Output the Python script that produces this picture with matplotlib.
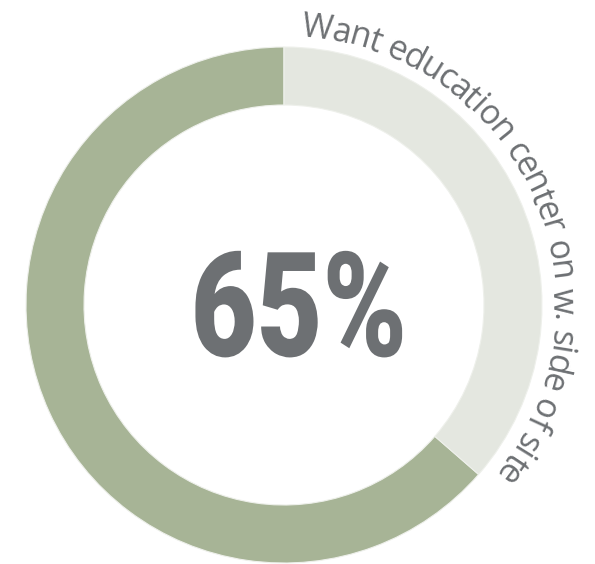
import numpy as np
import matplotlib
matplotlib.use("Agg")
import matplotlib.pyplot as plt
from matplotlib.font_manager import FontProperties
from matplotlib.textpath import text_to_path
from matplotlib.patheffects import AbstractPathEffect
from matplotlib.transforms import Affine2D

# data (ring shares, label as printed)
shares = [63.6, 36.4]
share_colors = ["#a7b496", "#e4e7e0"]
big_label = "65%"
arc_label = "Want education center on w. side of site"

gray = "#6d7073"


class Squeeze(AbstractPathEffect):
    # squeeze glyphs horizontally around x0 (display px), to fake a condensed face
    def __init__(self, sx, x0):
        super().__init__()
        self.sx = sx
        self.x0 = x0

    def draw_path(self, renderer, gc, tpath, affine, rgbFace=None):
        t = affine + Affine2D().translate(-self.x0, 0).scale(self.sx, 1).translate(self.x0, 0)
        renderer.draw_path(gc, tpath, t, rgbFace)


fig = plt.figure(figsize=(5.95, 5.64), dpi=100)
ax = fig.add_axes([0, 0, 1, 1])

cx, cy = 284, 259  # ring centre in pixels (y up)
r_out, r_in = 258, 200

ax.pie(shares, colors=share_colors, radius=r_out, center=(cx, cy),
       startangle=90, counterclock=True,
       wedgeprops=dict(width=r_out - r_in, edgecolor="#eef0eb", linewidth=0.8))
ax.set_aspect("auto")
ax.set_xlim(0, 595)
ax.set_ylim(0, 564)
ax.axis("off")

# big number
ax.text(299, 208, big_label, ha="center", va="baseline", color=gray,
        family="Roboto", weight="black", fontsize=105,
        path_effects=[Squeeze(0.78, 299)])

# curved label along the outside of the ring
fam = ["Open Sans", "DejaVu Sans"]
fp = FontProperties(family=fam, size=1)
r_txt = 269
a0, a1 = np.radians(3.8), np.radians(128.8)
grow = 1.07  # a bit bigger glyphs, tighter tracking


def width(s, prop):
    if not s:
        return 0.0
    return text_to_path.get_text_width_height_descent(s, prop, ismath=False)[0]


w1 = width(arc_label, fp)
fs_px = r_txt * (a1 - a0) / w1
fp_px = FontProperties(family=fam, size=fs_px)
for i, ch in enumerate(arc_label):
    if ch == " ":
        continue
    off = width(arc_label[:i], fp_px) + width(ch, fp_px) / 2
    a = a0 + off / r_txt
    x = cx + r_txt * np.sin(a)
    y = cy + r_txt * np.cos(a)
    ax.text(x, y, ch, ha="center", va="baseline", rotation=-np.degrees(a),
            rotation_mode="anchor", color=gray,
            family=fam, fontsize=fs_px * grow * 72 / 100)

fig.savefig("out.png", dpi=100)
